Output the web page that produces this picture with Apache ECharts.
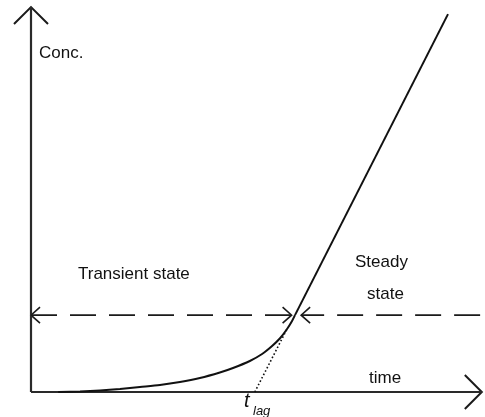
<!DOCTYPE html>
<html>
<head>
<meta charset="utf-8">
<script src="https://cdn.jsdelivr.net/npm/echarts@6/dist/echarts.min.js"></script>
<style>
  html, body { margin: 0; padding: 0; background: #fff; }
  #chart { width: 485px; height: 417px; }
</style>
</head>
<body>
<div id="chart"></div>
<script>
// Schematic of permeation: transient build-up, then steady-state flux.
// Time and concentration are in arbitrary units (0–100 on both axes).

// Transient (curved) part of the concentration profile
const transientTime = [6, 10.8, 15.2, 19.6, 24.0, 28.4, 32.8, 37.2, 41.6, 44.5,
                       48.2, 50.9, 53.1, 54.9, 56.4, 57.5, 58.15];
const transientConc = [0, 0.13, 0.38, 0.77, 1.28, 1.79, 2.55, 3.57, 4.97, 6.12,
                       7.91, 9.69, 11.73, 13.78, 16.07, 18.11, 19.6];

// Steady-state straight line
const steadyTime = [58.15, 91.85];
const steadyConc = [19.6, 96.4];

// Extrapolation of the steady line back to the time axis (lag time)
const lagTime = [49.3, 56.4];
const lagConc = [0, 16.1];

// Level separating the transient and steady regimes
const boundaryConc = 19.6;
const boundaryLeftEnd = 57.4;   // tip of the right-pointing arrow
const boundaryRightStart = 59.5; // tip of the left-pointing arrow

// Axis extents
const timeAxisEnd = 99.3;
const concAxisEnd = 98.2;

const pairs = (xs, ys) => xs.map((x, i) => [x, ys[i]]);

// arrow heads: [time, conc, pointing angle (deg), kind: 0 = axis, 1 = boundary]
const arrowHeads = [
  [timeAxisEnd, 0, 0, 0],
  [0, concAxisEnd, 90, 0],
  [0, boundaryConc, 180, 1],
  [boundaryLeftEnd, boundaryConc, 0, 1],
  [boundaryRightStart, boundaryConc, 180, 1]
];

function renderArrow(params, api) {
  const tip = api.coord([api.value(0), api.value(1)]);
  const ang = api.value(2) * Math.PI / 180;
  const big = api.value(3) === 0;
  const back = big ? 17 : 9;
  const half = big ? 17 : 8;
  const dx = Math.cos(ang), dy = -Math.sin(ang);
  const nx = -dy, ny = dx;
  const a = [tip[0] - dx * back + nx * half, tip[1] - dy * back + ny * half];
  const b = [tip[0] - dx * back - nx * half, tip[1] - dy * back - ny * half];
  return {
    type: 'polyline',
    shape: { points: [a, tip, b] },
    style: { stroke: '#1a1a1a', lineWidth: big ? 2 : 1.6, fill: null }
  };
}

const chart = echarts.init(document.getElementById('chart'), null, { renderer: 'canvas' });

const family = '"Liberation Sans", Arial, sans-serif';
// place text by its baseline
const text = (str, x, baseline, size, italic) => ({
  type: 'text',
  x: x,
  y: baseline - Math.round(size * 0.35),
  style: {
    text: str,
    fontFamily: family,
    fontSize: size,
    fontStyle: italic ? 'italic' : 'normal',
    fill: '#111',
    verticalAlign: 'middle',
    align: 'left'
  }
});

chart.setOption({
  animation: false,
  backgroundColor: '#ffffff',
  grid: { left: 31, right: 0, top: 0, bottom: 25 },
  xAxis: { type: 'value', min: 0, max: 100, show: false },
  yAxis: { type: 'value', min: 0, max: 100, show: false },
  series: [
    {
      name: 'time axis', type: 'line', data: [[0, 0], [timeAxisEnd, 0]],
      symbol: 'none', lineStyle: { color: '#2a2a2a', width: 2.2 }, silent: true
    },
    {
      name: 'conc axis', type: 'line', data: [[0, 0], [0, concAxisEnd]],
      symbol: 'none', lineStyle: { color: '#2a2a2a', width: 2.2 }, silent: true
    },
    {
      name: 'boundary left', type: 'line',
      data: [[0, boundaryConc], [boundaryLeftEnd, boundaryConc]],
      symbol: 'none', lineStyle: { color: '#1a1a1a', width: 1.8, type: [26, 13], dashOffset: 0 }
    },
    {
      name: 'boundary right', type: 'line',
      data: [[boundaryRightStart, boundaryConc], [100, boundaryConc]],
      symbol: 'none', lineStyle: { color: '#1a1a1a', width: 1.8, type: [26, 13], dashOffset: 3 }
    },
    {
      name: 'transient', type: 'line', data: pairs(transientTime, transientConc),
      smooth: 0.25, symbol: 'none', lineStyle: { color: '#111', width: 2 }
    },
    {
      name: 'steady', type: 'line', data: pairs(steadyTime, steadyConc),
      symbol: 'none', lineStyle: { color: '#111', width: 2 }
    },
    {
      name: 'lag', type: 'line', data: pairs(lagTime, lagConc),
      symbol: 'none', lineStyle: { color: '#111', width: 1.6, type: [1.6, 2.2] }
    },
    {
      name: 'arrows', type: 'custom', renderItem: renderArrow, data: arrowHeads,
      clip: false, silent: true
    }
  ],
  graphic: [
    text('Conc.', 39, 59, 17, false),
    text('Transient state', 78, 280, 17, false),
    text('Steady', 355, 268, 17, false),
    text('state', 367, 300, 17, false),
    text('time', 369, 384, 17, false),
    text('t', 244, 408, 20, true),
    text('lag', 253, 416, 13, true)
  ]
});
</script>
</body>
</html>
